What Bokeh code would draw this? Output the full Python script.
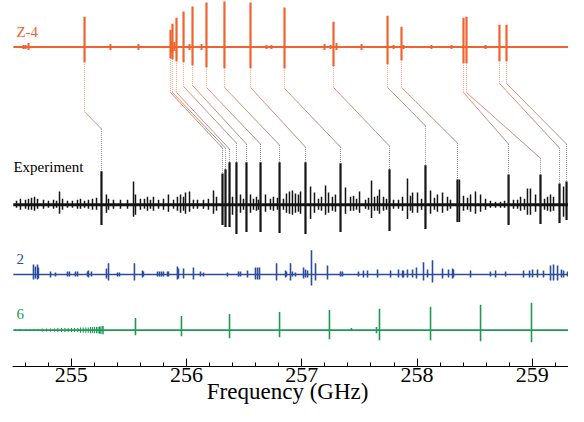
from bokeh.plotting import figure
from bokeh.models import Range1d, SingleIntervalTicker, Label
from bokeh.embed import file_html
from bokeh.resources import INLINE

# ---------------- data (frequencies in GHz, intensities in arbitrary units) ----------------
# Z-4 prediction: assigned lines (connected to experiment)
z4_assigned_freq = [255.115, 255.861, 255.878, 255.913, 255.974, 256.052, 256.173, 256.329, 256.555,
                    256.850, 257.275, 257.744, 257.865, 258.403, 258.429, 258.715, 258.776]
z4_assigned_up = [30, 17, 23, 29, 35, 40, 44, 45, 44, 39, 25, 31, 20, 29, 30, 22, 22]
z4_assigned_down = [15, 11, 12, 14, 15, 18, 20, 21, 21, 21, 19, 17, 13, 16, 16, 14, 14]
# Z-4 weak lines
z4_other_freq = [254.585, 254.603, 254.629, 255.080, 255.340, 255.583, 255.705, 255.869, 255.895, 256.026,
                 256.130, 256.694, 256.737, 257.197, 257.249, 257.301, 257.518, 257.796, 257.882, 258.056,
                 258.125, 258.299, 258.594]
z4_other_up = [2, 2, 4, 1, 3, 3, 1, 6, 5, 3, 3, 2, 2, 3, 2, 4, 3, 2, 2, 1, 2, 2, 2]
z4_other_down = [2, 2, 3, 1, 3, 3, 1, 6, 4, 3, 3, 2, 2, 3, 2, 3, 3, 2, 2, 1, 2, 2, 2]

# Experiment: assigned lines
exp_assigned_freq = [255.262, 256.312, 256.338, 256.373, 256.433, 256.520, 256.642, 256.807, 257.032,
                     257.336, 257.761, 258.073, 258.351, 258.794, 259.071, 259.236, 259.297]
exp_assigned_up = [33, 31, 35, 42, 42, 42, 42, 42, 42, 41, 35, 39, 25, 30, 30, 21, 23]
exp_assigned_down = [20, 20, 22, 22, 29, 27, 27, 28, 29, 27, 26, 24, 17, 20, 19, 18, 15]
# Experiment: other lines
exp_other_freq = [254.525, 254.559, 254.603, 254.629, 254.655, 254.681, 254.707, 254.759, 254.802, 254.846,
                  254.872, 254.898, 254.924, 254.967, 255.010, 255.054, 255.080, 255.115, 255.149, 255.184,
                  255.219, 255.305, 255.323, 255.366, 255.427, 255.488, 255.540, 255.557, 255.600, 255.635,
                  255.661, 255.687, 255.713, 255.757, 255.800, 255.843, 255.887, 255.921, 255.948, 255.974,
                  255.991, 256.026, 256.060, 256.095, 256.147, 256.190, 256.234, 256.260, 256.399, 256.468,
                  256.494, 256.555, 256.581, 256.607, 256.624, 256.685, 256.728, 256.754, 256.789, 256.841,
                  256.867, 256.893, 256.919, 256.945, 256.971, 256.989, 257.076, 257.110, 257.145, 257.171,
                  257.206, 257.232, 257.266, 257.292, 257.379, 257.423, 257.449, 257.475, 257.501, 257.553,
                  257.579, 257.605, 257.631, 257.657, 257.674, 257.709, 257.735, 257.796, 257.839, 257.874,
                  257.917, 257.943, 257.961, 258.004, 258.039, 258.117, 258.151, 258.177, 258.221, 258.264,
                  258.290, 258.368, 258.403, 258.438, 258.464, 258.507, 258.551, 258.594, 258.637, 258.681,
                  258.724, 258.759, 258.837, 258.872, 258.898, 258.932, 258.958, 258.984, 259.028, 259.106,
                  259.132, 259.158, 259.184, 259.271, 259.332, 259.358]
exp_other_up = [4, 6, 5, 6, 7, 8, 6, 5, 4, 5,
                4, 13, 6, 4, 4, 5, 6, 4, 5, 6,
                7, 10, 6, 5, 5, 5, 23, 10, 6, 6,
                8, 5, 8, 5, 6, 10, 5, 8, 10, 8,
                12, 13, 5, 5, 5, 6, 14, 8, 8, 10,
                6, 10, 6, 8, 5, 10, 6, 8, 7, 6,
                11, 13, 14, 11, 10, 13, 18, 12, 6, 8,
                19, 12, 8, 10, 17, 8, 9, 6, 13, 5,
                7, 24, 8, 9, 15, 8, 6, 5, 5, 8,
                26, 9, 12, 12, 6, 14, 7, 10, 12, 8,
                5, 25, 9, 7, 10, 13, 10, 6, 4, 3,
                3, 4, 5, 5, 8, 6, 16, 16, 10, 6,
                8, 10, 8, 18, 4, 5]
exp_other_down = [3, 5, 4, 5, 5, 6, 4, 4, 3, 4,
                  3, 9, 5, 3, 3, 4, 4, 3, 4, 5,
                  5, 8, 5, 4, 4, 4, 12, 10, 5, 4,
                  6, 4, 6, 4, 5, 7, 4, 6, 8, 6,
                  9, 7, 4, 4, 4, 5, 9, 6, 10, 8,
                  5, 8, 5, 6, 5, 7, 5, 6, 5, 5,
                  8, 9, 10, 8, 7, 9, 14, 8, 5, 6,
                  10, 8, 6, 7, 9, 6, 6, 5, 8, 4,
                  5, 13, 6, 6, 9, 6, 5, 4, 4, 6,
                  14, 6, 8, 8, 5, 9, 5, 7, 8, 6,
                  4, 17, 6, 5, 7, 9, 7, 5, 3, 3,
                  3, 3, 4, 4, 6, 5, 10, 10, 7, 5,
                  6, 7, 6, 12, 3, 4]

# Conformer 2
c2_freq = [254.672, 254.689, 254.707, 254.715, 254.820, 254.863, 254.967, 254.984, 255.036, 255.054,
           255.141, 255.149, 255.175, 255.305, 255.323, 255.401, 255.418, 255.548, 255.618, 255.626,
           255.748, 255.765, 255.783, 255.800, 255.835, 255.843, 255.921, 255.930, 255.974, 256.060,
           256.121, 256.147, 256.355, 256.451, 256.468, 256.529, 256.598, 256.616, 256.633, 256.781,
           256.859, 256.867, 256.902, 256.919, 256.945, 257.015, 257.032, 257.050, 257.084, 257.119,
           257.223, 257.336, 257.353, 257.492, 257.535, 257.570, 257.657, 257.770, 257.839, 257.874,
           257.882, 257.917, 257.961, 257.995, 258.056, 258.091, 258.134, 258.221, 258.273, 258.308,
           258.316, 258.464, 258.637, 258.681, 258.768, 258.924, 258.976, 259.002, 259.045, 259.097,
           259.158, 259.184, 259.219, 259.253, 259.271, 259.305, 259.358]
c2_up = [10, 8, 10, 7, 3, 2, 3, 3, 3, 3,
         3, 4, 3, 6, 11, 2, 2, 11, 4, 3,
         3, 3, 3, 3, 3, 3, 8, 6, 6, 7,
         3, 2, 2, 3, 3, 4, 7, 7, 7, 11,
         4, 3, 11, 3, 2, 7, 5, 4, 24, 11,
         9, 3, 3, 3, 4, 4, 5, 4, 5, 4,
         4, 5, 5, 7, 12, 5, 14, 6, 5, 6,
         5, 4, 3, 4, 3, 4, 4, 5, 5, 4,
         9, 10, 9, 5, 4, 3, 3]
c2_down = [5, 4, 5, 4, 3, 2, 2, 2, 2, 2,
           2, 3, 2, 4, 6, 2, 2, 6, 3, 2,
           2, 2, 2, 2, 2, 2, 5, 4, 4, 5,
           2, 2, 2, 2, 2, 3, 5, 5, 5, 6,
           3, 2, 6, 2, 2, 4, 3, 3, 11, 6,
           5, 2, 2, 2, 3, 3, 3, 3, 3, 3,
           3, 3, 3, 4, 6, 3, 8, 4, 3, 4,
           3, 3, 2, 3, 2, 3, 3, 3, 3, 3,
           6, 6, 6, 3, 3, 2, 2]

# Conformer 6
c6_comb_freq = [254.516, 254.559, 254.603, 254.640, 254.675, 254.713, 254.748, 254.785, 254.820, 254.854,
                254.883, 254.915, 254.944, 254.973, 255.002, 255.028, 255.056, 255.080, 255.103, 255.126,
                255.147, 255.167, 255.184, 255.201, 255.219, 255.233, 255.245, 255.256, 255.268, 255.277]
c6_comb_amp = [1, 1, 1, 1, 1, 1, 1.5, 1.5, 1.5, 1.5, 2, 2, 2, 2, 2, 2, 2, 2.5, 2.5, 2.5,
               2.5, 3, 3, 3, 3, 3, 3.5, 3.5, 4, 4]
c6_freq = [255.557, 255.956, 256.373, 256.807, 257.240, 257.431, 257.648, 257.674, 258.117, 258.551,
           258.993, 259.427]
c6_up = [12, 14, 16, 18, 20, 2, 3, 21, 23, 25, 27, 29]
c6_down = [5, 6, 8, 7, 9, 1, 3, 10, 10, 11, 12, 13]

# ---------------- layout / style ----------------
SERIF = "Liberation Serif"
ORANGE = "#f0632e"
BLACK = "#141414"
BLUE = "#2b4d9b"
GREEN = "#1f9a55"
X_START, X_END = 254.490, 259.314
TRACE_START = 254.497
Y_BOTTOM, Y_TOP = 373, 11          # vertical layout units, flipped (down = larger)
BASE_Z4, BASE_EXP, BASE_2, BASE_6 = 57, 213, 282, 337
bend_top = [121, 102, 102, 102, 96, 95, 97, 97, 97, 98, 97, 97, 97, 102, 102, 93, 93]
bend_bottom = [138, 157, 157, 158, 152, 153, 153, 154, 156, 156, 155, 135, 152, 153, 167, 157, 153]

p = figure(width=568, height=406, x_range=Range1d(X_START, X_END),
           y_range=Range1d(Y_BOTTOM, Y_TOP), output_backend="svg",
           toolbar_location=None, y_axis_location=None,
           min_border_left=12, min_border_right=0, min_border_top=0, min_border_bottom=0)
p.outline_line_color = None
p.xgrid.visible = False
p.ygrid.visible = False
p.background_fill_color = "white"
p.border_fill_color = "white"

ax = p.xaxis[0]
ax.ticker = SingleIntervalTicker(interval=1, num_minor_ticks=5)
ax.axis_line_color = "black"
ax.axis_line_width = 1.2
ax.major_tick_in = 8
ax.major_tick_out = 0
ax.minor_tick_in = 4
ax.minor_tick_out = 0
ax.major_tick_line_color = "black"
ax.minor_tick_line_color = "black"
ax.major_label_text_font = SERIF
ax.major_label_text_font_size = "22px"
ax.major_label_text_color = "black"
ax.major_label_standoff = 1
ax.axis_label = "Frequency  (GHz)"
ax.axis_label_text_font = SERIF
ax.axis_label_text_font_size = "23px"
ax.axis_label_text_font_style = "normal"
ax.axis_label_text_color = "black"
ax.axis_label_standoff = -6


def baseline(y, color, width):
    p.segment(x0=[TRACE_START], y0=[y], x1=[X_END + 0.3], y1=[y], line_color=color, line_width=width)


def sticks(freq, up, down, base, color, width):
    p.segment(x0=freq, y0=[base - u for u in up], x1=freq, y1=[base + d for d in down],
              line_color=color, line_width=width)


# connectors (drawn first, under the traces)
c_from = (242, 120, 80)
c_to = (135, 128, 128)
N = 8
for i in range(len(z4_assigned_freq)):
    zx = z4_assigned_freq[i]
    ex = exp_assigned_freq[i]
    ztop = BASE_Z4 + z4_assigned_down[i]
    etop = BASE_EXP - exp_assigned_up[i]
    b1, b2 = bend_top[i], bend_bottom[i]
    p.segment(x0=[zx], y0=[ztop], x1=[zx], y1=[b1], line_color="#f4a27e",
              line_width=1, line_dash="1 1")
    xs0, ys0, xs1, ys1, cols = [], [], [], [], []
    for k in range(N):
        t0, t1 = k / N, (k + 1) / N
        xs0.append(zx + (ex - zx) * t0)
        ys0.append(b1 + (b2 - b1) * t0)
        xs1.append(zx + (ex - zx) * t1)
        ys1.append(b1 + (b2 - b1) * t1)
        tm = (t0 + t1) / 2
        r = int(c_from[0] + (c_to[0] - c_from[0]) * tm)
        g = int(c_from[1] + (c_to[1] - c_from[1]) * tm)
        b = int(c_from[2] + (c_to[2] - c_from[2]) * tm)
        cols.append("#%02x%02x%02x" % (r, g, b))
    p.segment(x0=xs0, y0=ys0, x1=xs1, y1=ys1, line_color=cols, line_width=1, line_alpha=0.85)
    p.segment(x0=[ex], y0=[b2], x1=[ex], y1=[etop], line_color="#8c8c8c",
              line_width=1, line_dash="1 1")

# Z-4
baseline(BASE_Z4, ORANGE, 2)
sticks(z4_other_freq, z4_other_up, z4_other_down, BASE_Z4, ORANGE, 2)
sticks(z4_assigned_freq, z4_assigned_up, z4_assigned_down, BASE_Z4, ORANGE, 2.2)

# Experiment
baseline(BASE_EXP, BLACK, 2.8)
sticks(exp_other_freq, exp_other_up, exp_other_down, BASE_EXP, BLACK, 1.5)
sticks(exp_assigned_freq, exp_assigned_up, exp_assigned_down, BASE_EXP, BLACK, 2.2)

# Conformer 2
baseline(BASE_2, BLUE, 1.6)
sticks(c2_freq, c2_up, c2_down, BASE_2, BLUE, 1.6)

# Conformer 6
baseline(BASE_6, GREEN, 1.6)
sticks(c6_comb_freq, c6_comb_amp, c6_comb_amp, BASE_6, GREEN, 1.1)
sticks(c6_freq, c6_up, c6_down, BASE_6, GREEN, 1.6)

# trace labels
for txt, xx, yy, col in [("Z-4", 254.524, 42, ORANGE), ("Experiment", 254.498, 176, "black"),
                         ("2", 254.524, 267, BLUE), ("6", 254.524, 321, GREEN)]:
    p.add_layout(Label(x=xx, y=yy, text=txt, text_font=SERIF, text_font_size="15px",
                       text_color=col, text_baseline="alphabetic", text_align="left"))

open("out.html", "w").write(file_html(p, INLINE))
